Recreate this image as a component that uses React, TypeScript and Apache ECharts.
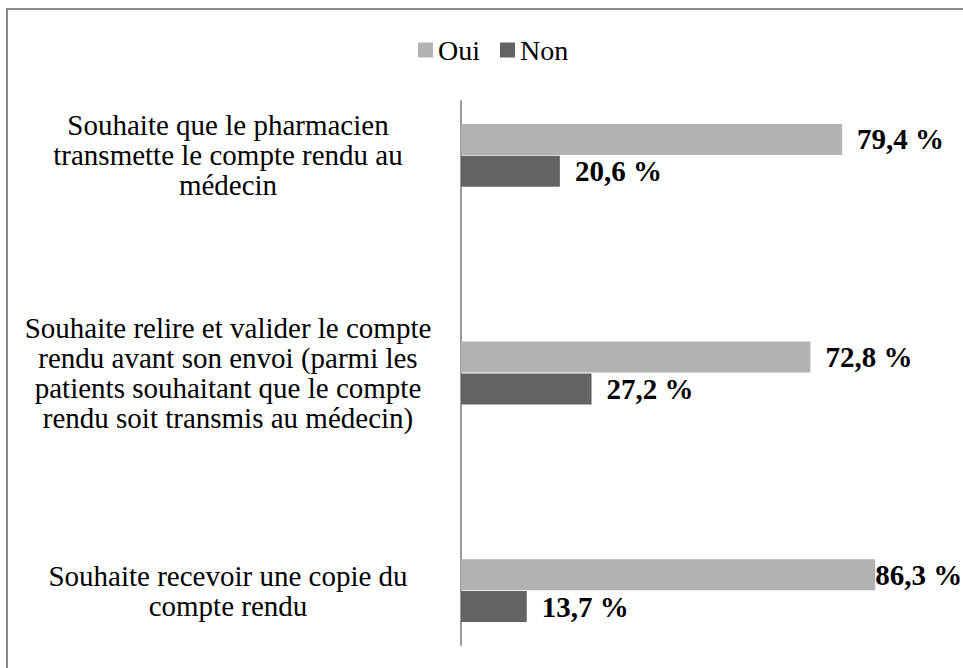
import React, { useEffect, useRef } from "react";
import * as echarts from "echarts";

const categories: string[] = [
  "Souhaite que le pharmacien\ntransmette le compte rendu au\nmédecin",
  "",
  "Souhaite relire et valider le compte\nrendu avant son envoi (parmi les\npatients souhaitant que le compte\nrendu soit transmis au médecin)",
  "",
  "Souhaite recevoir une copie du\ncompte rendu",
];
const seriesNames: string[] = ["Oui", "Non"];
const ouiValues: (number | null)[] = [79.4, null, 72.8, null, 86.3];
const nonValues: (number | null)[] = [20.6, null, 27.2, null, 13.7];

const FONT = "Liberation Serif";

export default function App() {
  const ref = useRef<HTMLDivElement>(null);

  useEffect(() => {
    if (!ref.current) return;
    const chart = echarts.init(ref.current, null, { renderer: "svg" });
    const fmt = (p: any) =>
      p.value == null ? "" : Number(p.value).toFixed(1).replace(".", ",") + " %";
    const maxOui = Math.max(...(ouiValues.filter((v) => v != null) as number[]));
    const ouiData = ouiValues.map((v) =>
      v === maxOui ? { value: v, label: { distance: 0 } } : v
    );
    const labelStyle = {
      show: true,
      position: "right",
      distance: 15,
      formatter: fmt,
      fontFamily: FONT,
      fontWeight: "bold",
      fontSize: 29,
      color: "#000",
    };
    chart.setOption({
      animation: false,
      backgroundColor: "#fff",
      textStyle: { fontFamily: FONT },
      graphic: [
        {
          type: "rect",
          shape: { x: 7, y: 9, width: 1000, height: 700 },
          style: { fill: "none", stroke: "#8a8a8a", lineWidth: 2 },
          silent: true,
        },
      ],
      legend: {
        data: seriesNames,
        left: 413,
        top: 30,
        itemWidth: 15,
        itemHeight: 15,
        itemGap: 20,
        icon: "rect",
        textStyle: { fontFamily: FONT, fontSize: 28, color: "#000", lineHeight: 30 },
      },
      grid: { left: 461, right: 22, top: 101, bottom: 23, containLabel: false },
      xAxis: {
        type: "value",
        min: 0,
        max: 100,
        show: false,
        splitLine: { show: false },
      },
      yAxis: {
        type: "category",
        data: categories,
        inverse: true,
        axisLine: { show: true, lineStyle: { color: "#9a9a9a", width: 2 } },
        axisTick: { show: false },
        axisLabel: {
          align: "center",
          margin: 233,
          fontFamily: FONT,
          fontSize: 29,
          lineHeight: 30,
          color: "#000",
          interval: 0,
        },
      },
      series: [
        {
          name: seriesNames[0],
          type: "bar",
          data: ouiData,
          barWidth: 31,
          barGap: "3%",
          itemStyle: { color: "#b2b2b2" },
          label: labelStyle,
        },
        {
          name: seriesNames[1],
          type: "bar",
          data: nonValues,
          barWidth: 31,
          barGap: "3%",
          itemStyle: { color: "#636363" },
          label: labelStyle,
        },
      ],
    });
    return () => chart.dispose();
  }, []);

  return (
    <div
      ref={ref}
      style={{ position: "fixed", left: 0, top: 0, width: 963, height: 668 }}
    />
  );
}
